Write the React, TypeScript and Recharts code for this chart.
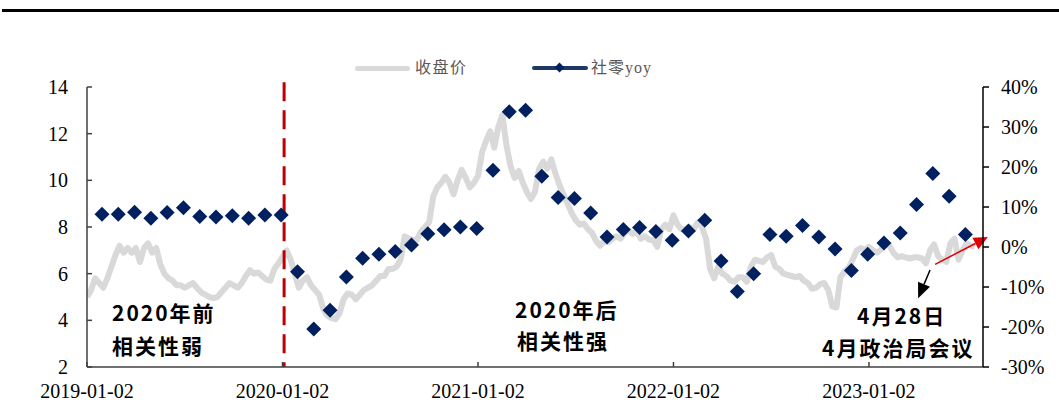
import React from "react";
import { ComposedChart, Line, XAxis, YAxis, ReferenceLine } from "recharts";

// x axis is in months since 2019-01-02
const xTicks = [0, 12, 24, 36, 48];
const xTickLabels = ["2019-01-02", "2020-01-02", "2021-01-02", "2022-01-02", "2023-01-02"];
const leftTicks = [2, 4, 6, 8, 10, 12, 14];
const rightTicks = [-30, -20, -10, 0, 10, 20, 30, 40];

// closing price, one sample every quarter month from 2019-01-02
const priceStep = 0.25;
const closePrice = [
  5.0, 5.3, 5.8, 5.6, 5.4, 5.8, 6.3, 6.8, 7.2, 6.9,
  7.1, 6.9, 7.1, 6.5, 7.1, 7.3, 6.9, 7.1, 6.4, 6.0,
  5.8, 5.7, 5.5, 5.5, 5.4, 5.5, 5.6, 5.4, 5.2, 5.1,
  5.0, 4.95, 5.0, 5.2, 5.4, 5.6, 5.5, 5.4, 5.6, 5.9,
  6.15, 6.0, 6.05, 5.9, 5.75, 5.7, 6.2, 6.45, 6.7, 7.0,
  6.6, 6.0, 5.4, 5.7, 5.85, 5.5, 5.3, 5.1, 4.5, 4.2,
  4.1, 4.05, 4.3, 4.9, 5.15, 5.1, 4.9, 5.1, 5.3, 5.4,
  5.5, 5.7, 5.9, 5.9, 6.2, 6.2, 6.3, 6.6, 7.6, 7.5,
  7.45, 7.45, 7.8, 8.0, 8.2, 9.3, 9.7, 9.9, 10.15, 9.9,
  9.4, 10.0, 10.45, 10.1, 9.7, 9.9, 10.2, 11.2, 11.7, 12.1,
  11.4, 12.3, 12.8, 11.5, 10.6, 10.1, 10.4, 9.9, 9.5, 9.2,
  9.5, 10.5, 10.8, 10.5, 10.9, 10.3, 9.8, 9.4, 9.0, 8.6,
  8.3, 8.1, 8.15, 7.9, 7.75, 7.4, 7.2, 7.4, 7.35, 7.5,
  7.6, 7.5, 7.75, 7.85, 7.7, 7.8, 7.5, 7.6, 7.45, 7.45,
  7.15, 7.9, 8.1, 7.9, 8.5, 8.1, 7.9, 7.9, 8.0, 7.9,
  8.2, 8.0, 7.5, 6.2, 5.8, 6.3, 6.0, 5.9, 5.7, 5.65,
  5.85, 5.85, 5.65, 6.3, 6.6, 6.55, 6.5, 6.7, 6.8, 6.3,
  6.2, 6.0, 5.95, 5.9, 5.85, 5.9, 5.7, 5.6, 5.35, 5.4,
  5.55, 5.6, 5.3, 4.6, 4.55, 5.85, 6.1, 6.25, 6.6, 7.0,
  7.1, 7.0, 7.15, 7.0, 6.9, 7.05, 7.25, 7.2, 6.9, 6.7,
  6.75, 6.7, 6.65, 6.7, 6.7, 6.65, 6.45, 7.0, 7.25, 6.75,
  6.6, 6.5, 7.3, 7.5, 6.6, 7.0, 7.3, 7.2, 7.15,
];

// retail sales yoy (%), monthly from 2019-01, plotted at month end
const yoyOffset = 0.92;
const retailYoy = [
  8.2, 8.2, 8.7, 7.2, 8.6, 9.8, 7.6, 7.5, 7.8, 7.2, 8.0, 8.0,
  -6.2, -20.5, -15.8, -7.5, -2.8, -1.8, -1.1, 0.5, 3.3, 4.3, 5.0, 4.6,
  19.2, 33.8, 34.2, 17.7, 12.4, 12.1, 8.5, 2.5, 4.4, 4.9, 3.9, 1.7,
  4.0, 6.7, -3.5, -11.1, -6.7, 3.1, 2.7, 5.4, 2.5, -0.5, -5.9, -1.8,
  1.0, 3.5, 10.6, 18.4, 12.7, 3.1,
];

const priceData = closePrice.map((v, i) => ({ m: i * priceStep, price: v }));
const yoyData = retailYoy.map((v, i) => ({ m: i + yoyOffset, yoy: v }));

const NAVY = "#002060";
const GRAY = "#D9D9D9";
const serif = "'Liberation Serif', 'Noto Sans CJK SC', serif";
const cjkBold = "'Noto Sans CJK SC', sans-serif";

const Diamond = (props: any) => {
  const { cx, cy, index } = props;
  if (cx == null || cy == null) return <g key={`d-${index}`} />;
  const r = 7.5;
  return (
    <path
      key={`d-${index}`}
      d={`M${cx},${cy - r}L${cx + r},${cy}L${cx},${cy + r}L${cx - r},${cy}Z`}
      fill={NAVY}
    />
  );
};

const arrow = (color: string, width: number, headLen: number, headW: number) => (p: any) => {
  const x1 = Number(p.x1), y1 = Number(p.y1), x2 = Number(p.x2), y2 = Number(p.y2);
  const dx = x2 - x1, dy = y2 - y1;
  const len = Math.hypot(dx, dy) || 1;
  const ux = dx / len, uy = dy / len;
  const bx = x2 - ux * headLen, by = y2 - uy * headLen;
  const px = (-uy * headW) / 2, py = (ux * headW) / 2;
  return (
    <g>
      <line x1={x1} y1={y1} x2={bx} y2={by} stroke={color} strokeWidth={width} />
      <polygon points={`${x2},${y2} ${bx + px},${by + py} ${bx - px},${by - py}`} fill={color} />
    </g>
  );
};

const note = (text: string, left: number, top: number) => (
  <div
    style={{
      position: "absolute",
      left,
      top,
      fontFamily: cjkBold,
      fontWeight: 700,
      fontSize: 21,
      lineHeight: "21px",
      letterSpacing: 2,
      color: "#000",
      whiteSpace: "nowrap",
    }}
  >
    {text}
  </div>
);

export default function App() {
  return (
    <div style={{ position: "absolute", left: 0, top: 0, width: 1059, height: 418, background: "#fff", overflow: "hidden" }}>
      <div style={{ position: "absolute", left: 2, top: 9, width: 1057, height: 3, background: "#000" }} />

      {/* legend */}
      <div style={{ position: "absolute", left: 355, top: 66, width: 55, height: 5, borderRadius: 3, background: GRAY }} />
      <div style={{ position: "absolute", left: 415, top: 58, fontFamily: serif, fontSize: 16, lineHeight: "20px", letterSpacing: 1.5, color: "#595959" }}>
        收盘价
      </div>
      <div style={{ position: "absolute", left: 532, top: 66, width: 56, height: 4, borderRadius: 2, background: "#1F3864" }} />
      <div style={{ position: "absolute", left: 556, top: 64, width: 7, height: 7, background: NAVY, transform: "rotate(45deg)" }} />
      <div style={{ position: "absolute", left: 591, top: 58, fontFamily: serif, fontSize: 16, lineHeight: "20px", letterSpacing: 1, color: "#595959" }}>
        社零yoy
      </div>

      <ComposedChart width={1059} height={418} margin={{ top: 87, right: 0, bottom: 0, left: 0 }}>
        <XAxis
          type="number"
          dataKey="m"
          domain={[0, 55]}
          ticks={xTicks}
          interval={0}
          allowDataOverflow
          tickFormatter={(v) => xTickLabels[xTicks.indexOf(Number(v))] ?? ""}
          height={51}
          tickSize={-5}
          tickMargin={22}
          stroke="#404040"
          strokeWidth={1.5}
          tick={{ fill: "#000", fontSize: 20, fontFamily: serif }}
        />
        <YAxis
          yAxisId="left"
          orientation="left"
          domain={[2, 14]}
          ticks={leftTicks}
          interval={0}
          width={87}
          tickSize={-5}
          tickMargin={24}
          stroke="#404040"
          strokeWidth={1.5}
          tick={{ fill: "#000", fontSize: 20, fontFamily: serif }}
        />
        <YAxis
          yAxisId="right"
          orientation="right"
          domain={[-30, 40]}
          ticks={rightTicks}
          interval={0}
          width={76}
          tickSize={6}
          tickMargin={12}
          tickFormatter={(v) => `${v}%`}
          stroke="#000"
          strokeWidth={1.5}
          tick={{ fill: "#000", fontSize: 20, fontFamily: serif }}
        />
        <Line
          yAxisId="left"
          data={priceData}
          dataKey="price"
          type="linear"
          stroke={GRAY}
          strokeWidth={6}
          strokeLinejoin="round"
          dot={false}
          activeDot={false}
          isAnimationActive={false}
        />
        <ReferenceLine
          yAxisId="left"
          segment={[{ x: 12.1, y: 14.2 }, { x: 12.1, y: 2 }]}
          stroke="#C00000"
          strokeWidth={3}
          strokeDasharray="19 9"
          ifOverflow="visible"
        />
        <Line
          yAxisId="right"
          data={yoyData}
          dataKey="yoy"
          stroke="none"
          strokeWidth={0}
          dot={Diamond}
          activeDot={false}
          isAnimationActive={false}
        />
        <ReferenceLine
          yAxisId="left"
          segment={[{ x: 51.75, y: 6.16 }, { x: 51.02, y: 4.95 }]}
          ifOverflow="visible"
          shape={arrow("#000", 1.5, 15, 13)}
        />
        <ReferenceLine
          yAxisId="left"
          segment={[{ x: 52.06, y: 6.4 }, { x: 55.3, y: 7.57 }]}
          ifOverflow="visible"
          shape={arrow("#E00000", 1.5, 14, 13)}
        />
      </ComposedChart>

      {note("2020年前", 112, 302)}
      {note("相关性弱", 112, 335)}
      {note("2020年后", 515, 299)}
      {note("相关性强", 517, 330)}
      {note("4月28日", 857, 305)}
      {note("4月政治局会议", 822, 337)}
    </div>
  );
}
